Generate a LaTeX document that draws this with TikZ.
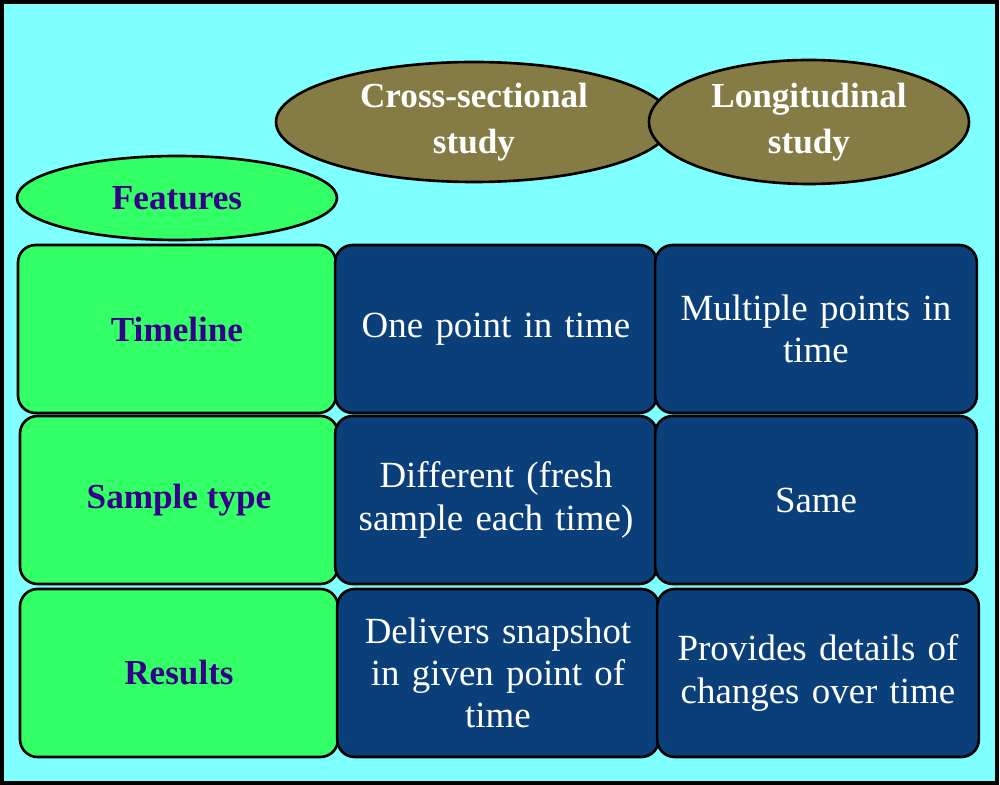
\documentclass[tikz,border=0pt]{standalone}
\usepackage{fontspec}
\setmainfont{Liberation Serif}
\usetikzlibrary{shapes.geometric}
\definecolor{bgcyan}{HTML}{80FFFF}
\definecolor{olivehead}{HTML}{857B45}
\definecolor{greenbox}{HTML}{33FF66}
\definecolor{bluebox}{HTML}{0B3F7A}
\definecolor{purpletext}{HTML}{330088}
\tikzset{
  head/.style={ellipse, draw=black, line width=1.5pt, fill=olivehead, text=white,
    font=\fontsize{20}{26}\selectfont\bfseries, align=center, inner sep=0pt},
  feature/.style={rectangle, rounded corners=10pt, draw=black, line width=1.5pt, fill=greenbox,
    text=purpletext, font=\fontsize{20}{26}\selectfont\bfseries, align=center,
    minimum width=6.36cm, minimum height=3.36cm},
  cell/.style={rectangle, rounded corners=10pt, draw=black, line width=1.5pt, fill=bluebox,
    text=white, font=\fontsize{21}{24}\selectfont, align=center, text width=6.2cm,
    minimum width=6.3cm, minimum height=3.36cm}
}
\begin{document}
\begin{tikzpicture}
  % background
  \draw[line width=2pt, fill=bgcyan] (0.04,0.04) rectangle (19.94,15.66);
  \useasboundingbox (0,0) rectangle (20,15.7);

  % column heads
  \node[head, minimum width=6cm, minimum height=2.4cm, text width=5.6cm] (cross) at (9.48,13.26) {Cross-sectional\\study};
  \node[head, minimum width=6.4cm, minimum height=2.48cm] (longi) at (16.18,13.26) {Longitudinal\\study};
  \node[head, fill=greenbox, text=purpletext, minimum width=6.4cm, minimum height=1.68cm] (features) at (3.54,11.74) {Features};

  % rows
  \node[feature] (timeline) at (3.54,9.12) {Timeline};
  \node[cell] (tcross) at (9.92,9.12) {One point in time};
  \node[cell] (tlongi) at (16.32,9.12) {Multiple points in\\time};

  \node[feature] (sample) at (3.58,5.70) {Sample type};
  \node[cell] (scross) at (9.92,5.70) {Different (fresh\\sample each time)};
  \node[cell] (slongi) at (16.32,5.70) {Same};

  \node[feature] (results) at (3.58,2.24) {Results};
  \node[cell] (rcross) at (9.96,2.24) {Delivers snapshot\\in given point of\\time};
  \node[cell] (rlongi) at (16.36,2.24) {Provides details of\\changes over time};
\end{tikzpicture}
\end{document}
